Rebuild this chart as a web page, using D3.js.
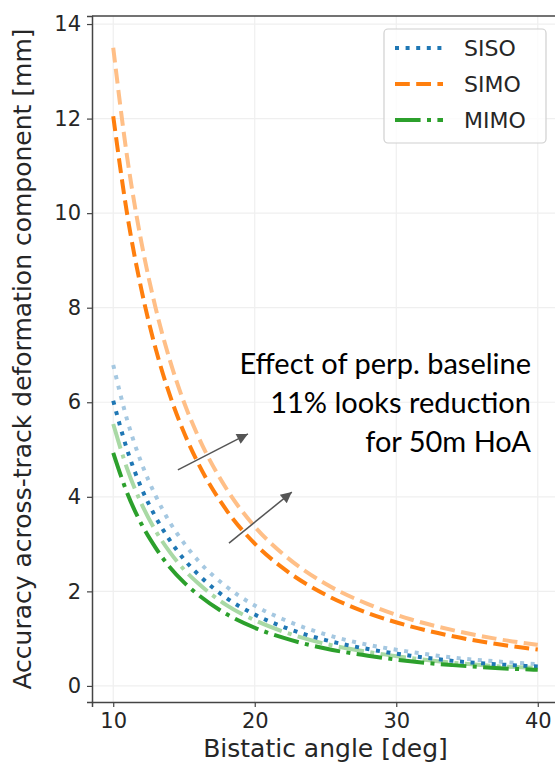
<!DOCTYPE html>
<html>
<head>
<meta charset="utf-8">
<script src="https://cdn.jsdelivr.net/npm/d3@7"></script>
<style>
  body { margin: 0; background: #fff; }
  svg { display: block; overflow: hidden; }
</style>
</head>
<body>
<div id="chart"></div>
<script>
// Data
const angles = [10, 11, 12, 13, 14, 15, 16, 18, 20, 22, 25, 28, 31, 34, 37, 40];
const sisoDark  = [6.03, 4.98, 4.18, 3.57, 3.08, 2.68, 2.36, 1.86, 1.51, 1.25, 0.97, 0.78, 0.64, 0.53, 0.46, 0.41];
const sisoLight = [6.79, 5.61, 4.71, 4.02, 3.46, 3.02, 2.65, 2.10, 1.70, 1.41, 1.09, 0.87, 0.72, 0.60, 0.52, 0.46];
const simoDark  = [12.05, 9.95, 8.37, 7.13, 6.15, 5.36, 4.71, 3.72, 3.01, 2.49, 1.93, 1.54, 1.26, 1.05, 0.89, 0.77];
const simoLight = [13.5, 11.15, 9.37, 7.99, 6.89, 6.0, 5.28, 4.17, 3.37, 2.79, 2.16, 1.73, 1.41, 1.18, 1.0, 0.87];
const mimoDark  = [4.93, 4.07, 3.42, 2.92, 2.51, 2.19, 1.93, 1.52, 1.23, 1.02, 0.79, 0.64, 0.52, 0.44, 0.38, 0.34];
const mimoLight = [5.54, 4.58, 3.85, 3.28, 2.83, 2.46, 2.17, 1.71, 1.39, 1.15, 0.89, 0.72, 0.59, 0.49, 0.42, 0.38];
const xTicks = [10, 20, 30, 40];
const yTicks = [0, 2, 4, 6, 8, 10, 12, 14];
const legendNames = ["SISO", "SIMO", "MIMO"];
const noteLines = ["Effect of perp. baseline", "11% looks reduction", "for 50m HoA"];
// arrow ends in data units [angle, mm]
const arrowFrom = [[14.57, 4.57], [18.18, 3.02]];
const arrowTo = [[19.52, 5.33], [22.62, 4.10]];

const svg = d3.select("#chart").append("svg")
  .attr("width", 555)
  .attr("height", 766);

const margin = { top: 16, left: 92, right: 559, bottom: 702 };

const x = d3.scaleLinear().domain([8.5, 41.5]).range([margin.left, margin.right]);
const y = d3.scaleLinear().domain([-0.34, 14.17]).range([margin.bottom, margin.top]);

// grid
const grid = svg.append("g");
grid.selectAll(".gx").data(xTicks).enter().append("line")
  .attr("x1", d => x(d)).attr("x2", d => x(d))
  .attr("y1", margin.top).attr("y2", margin.bottom)
  .attr("stroke", "#efefef").attr("stroke-width", 1.2);
grid.selectAll(".gy").data(yTicks).enter().append("line")
  .attr("x1", margin.left).attr("x2", margin.right)
  .attr("y1", d => y(d)).attr("y2", d => y(d))
  .attr("stroke", "#efefef").attr("stroke-width", 1.2);

// lines
const line = d3.line()
  .x(d => x(d[0]))
  .y(d => y(d[1]))
  .curve(d3.curveMonotoneX);

const series = [
  { vals: sisoLight, color: "#a5c8e1", dash: "4,6.6" },
  { vals: simoLight, color: "#ffbf87", dash: "14.8,6.4" },
  { vals: mimoLight, color: "#a9d9a5", dash: "25.6,6.4,4,6.4" },
  { vals: sisoDark, color: "#1f77b4", dash: "4,6.6" },
  { vals: simoDark, color: "#ff7f0e", dash: "14.8,6.4" },
  { vals: mimoDark, color: "#2ca02c", dash: "25.6,6.4,4,6.4" }
];

svg.append("g").selectAll("path").data(series).enter().append("path")
  .attr("d", s => line(angles.map((a, i) => [a, s.vals[i]])))
  .attr("fill", "none")
  .attr("stroke", s => s.color)
  .attr("stroke-width", 4)
  .attr("stroke-dasharray", s => s.dash);

// axes
const xAxis = svg.append("g")
  .attr("transform", `translate(0,${margin.bottom})`)
  .call(d3.axisBottom(x).tickValues(xTicks).tickSize(5).tickPadding(6));
const yAxis = svg.append("g")
  .attr("transform", `translate(${margin.left},0)`)
  .call(d3.axisLeft(y).tickValues(yTicks).tickSize(5).tickPadding(6));

[xAxis, yAxis].forEach(ax => {
  ax.select(".domain").attr("stroke", "#444").attr("stroke-width", 1.5);
  ax.selectAll(".tick line").attr("stroke", "#444").attr("stroke-width", 1.2);
  ax.selectAll(".tick text")
    .attr("font-family", "DejaVu Sans")
    .attr("font-size", 21)
    .attr("fill", "#262626");
});

// top spine
svg.append("line")
  .attr("x1", margin.left).attr("x2", margin.right)
  .attr("y1", margin.top).attr("y2", margin.top)
  .attr("stroke", "#444").attr("stroke-width", 1.5);

// axis labels
svg.append("text")
  .attr("x", (margin.left + margin.right) / 2)
  .attr("y", 757)
  .attr("text-anchor", "middle")
  .attr("font-family", "DejaVu Sans")
  .attr("font-size", 25)
  .attr("fill", "#262626")
  .text("Bistatic angle [deg]");

svg.append("text")
  .attr("transform", `translate(31,${(margin.top + margin.bottom) / 2}) rotate(-90)`)
  .attr("text-anchor", "middle")
  .attr("font-family", "DejaVu Sans")
  .attr("font-size", 25)
  .attr("fill", "#262626")
  .text("Accuracy across-track deformation component [mm]");

// legend
const legend = svg.append("g");
legend.append("rect")
  .attr("x", 384).attr("y", 29)
  .attr("width", 162).attr("height", 114)
  .attr("rx", 4)
  .attr("fill", "#fff").attr("fill-opacity", 0.8)
  .attr("stroke", "#d0d0d0").attr("stroke-width", 1.2);

const legItems = legend.selectAll(".item").data(series.slice(3)).enter().append("g")
  .attr("transform", (d, i) => `translate(0,${48 + i * 36})`);
legItems.append("line")
  .attr("x1", 395).attr("x2", 443)
  .attr("stroke", d => d.color)
  .attr("stroke-width", 4)
  .attr("stroke-dasharray", d => d.dash);
legItems.append("text")
  .attr("x", 464).attr("y", 8)
  .attr("font-family", "DejaVu Sans")
  .attr("font-size", 22)
  .attr("fill", "#262626")
  .text((d, i) => legendNames[i]);

// annotation
const note = svg.append("g");
note.selectAll("text").data(noteLines).enter().append("text")
  .attr("x", 531)
  .attr("y", (d, i) => 374 + i * 39)
  .attr("text-anchor", "end")
  .attr("font-family", "Lato")
  .attr("font-size", 29)
  .attr("fill", "#000")
  .text(d => d);

svg.append("defs").append("marker")
  .attr("id", "arrow")
  .attr("viewBox", "0 0 10 10")
  .attr("refX", 10).attr("refY", 5)
  .attr("markerWidth", 16).attr("markerHeight", 11)
  .attr("markerUnits", "userSpaceOnUse")
  .attr("orient", "auto")
  .append("path")
  .attr("d", "M0,0 L10,5 L0,10 Z")
  .attr("fill", "#555");

svg.append("g").selectAll("line").data(arrowFrom).enter().append("line")
  .attr("x1", d => x(d[0])).attr("y1", d => y(d[1]))
  .attr("x2", (d, i) => x(arrowTo[i][0])).attr("y2", (d, i) => y(arrowTo[i][1]))
  .attr("stroke", "#555").attr("stroke-width", 1.5)
  .attr("marker-end", "url(#arrow)");
</script>
</body>
</html>
